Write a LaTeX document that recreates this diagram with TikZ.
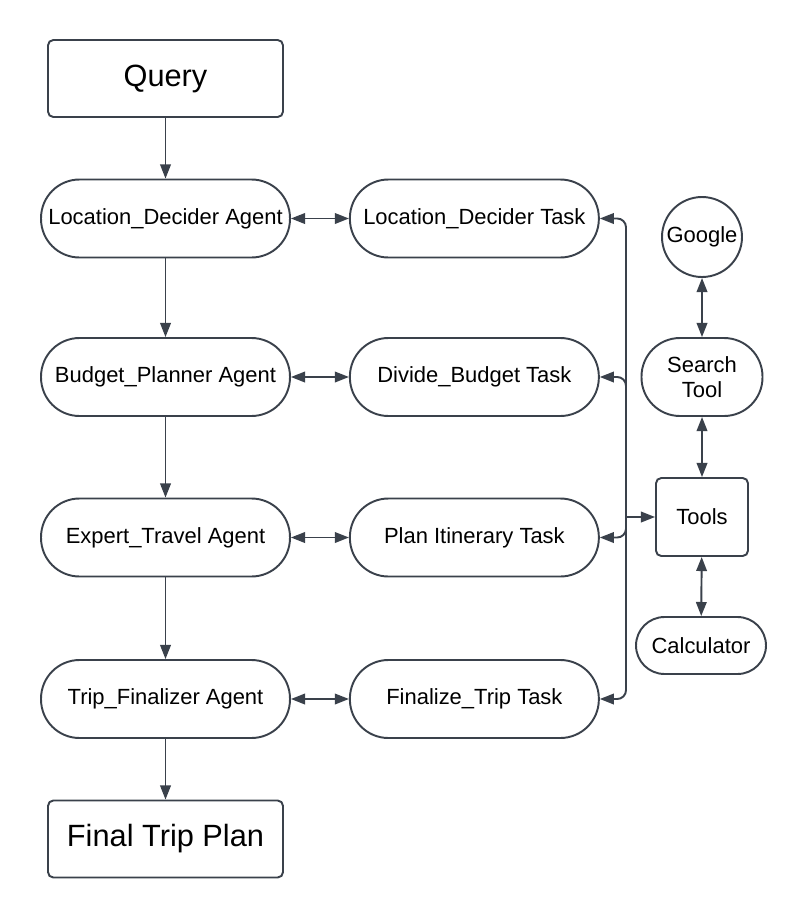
\documentclass[tikz,border=0pt]{standalone}
\usepackage{fontspec}
\setmainfont{Liberation Sans}
\usetikzlibrary{arrows.meta,positioning}
\definecolor{LineColor}{RGB}{58,65,75}

\tikzset{
  box/.style={draw=LineColor, line width=1.1pt, rounded corners=3pt, minimum width=4.7cm, minimum height=1.54cm, font=\fontsize{17.5}{20}\selectfont},
  pill/.style={draw=LineColor, line width=1.1pt, rounded corners=0.77cm, minimum width=4.98cm, minimum height=1.56cm, font=\fontsize{12.5}{15}\selectfont},
  link/.style={draw=LineColor, line width=1.1pt, -{Triangle[length=8pt,width=6pt]}},
  both/.style={link, {Triangle[length=8pt,width=6pt]}-{Triangle[length=8pt,width=6pt]}}
}

\begin{document}
\begin{tikzpicture}[x=0.02cm, y=-0.02cm, node distance=1.16cm]
  \useasboundingbox (0,0) rectangle (806,920);

  % agents column
  \node[box] (query) at (165.5,78.5) {Query};
  \node[pill] (ldagent) at (165.5,218.5) {Location\_Decider Agent};
  \node[pill] (bpagent) at (165.5,377) {Budget\_Planner Agent};
  \node[pill] (etagent) at (165.5,537.5) {Expert\_Travel Agent};
  \node[pill] (tfagent) at (165.5,699) {Trip\_Finalizer Agent};
  \node[box] (plan) at (165.5,839) {Final Trip Plan};

  % tasks column
  \node[pill, right=of ldagent] (ldtask) {Location\_Decider Task};
  \node[pill, right=of bpagent] (dbtask) {Divide\_Budget Task};
  \node[pill, right=of etagent] (pitask) {Plan Itinerary Task};
  \node[pill, right=of tfagent] (fttask) {Finalize\_Trip Task};

  % tools column
  \node[draw=LineColor, line width=1.1pt, circle, minimum size=1.6cm, inner sep=0pt, font=\fontsize{12.5}{15}\selectfont] (google) at (702,237) {Google};
  \node[pill, minimum width=2.42cm, align=center, font=\fontsize{12.5}{14.5}\selectfont] (search) at (702,377) {Search\\Tool};
  \node[draw=LineColor, line width=1.1pt, rounded corners=3pt, minimum width=1.84cm, minimum height=1.56cm, font=\fontsize{12.5}{15}\selectfont] (tools) at (702,517) {Tools};
  \node[pill, minimum width=2.6cm, minimum height=1.14cm, rounded corners=0.57cm] (calc) at (701,645.5) {Calculator};
  \coordinate (bus) at (626,517);

  \draw[link] (query) -- (ldagent);
  \draw[link] (ldagent) -- (bpagent);
  \draw[link] (bpagent) -- (etagent);
  \draw[link] (etagent) -- (tfagent);
  \draw[link] (tfagent) -- (plan);

  \draw[both] (ldagent) -- (ldtask);
  \draw[both] (bpagent) -- (dbtask);
  \draw[both] (etagent) -- (pitask);
  \draw[both] (tfagent) -- (fttask);

  \draw[both] (google) -- (search);
  \draw[both] (search) -- (tools);
  \draw[both] (tools) -- (calc);

  \draw[link] (bus) -- (tools.west);
  \foreach \t in {ldtask,dbtask,pitask,fttask}
    \draw[link, rounded corners=5pt] (bus) |- (\t.east);
\end{tikzpicture}
\end{document}
